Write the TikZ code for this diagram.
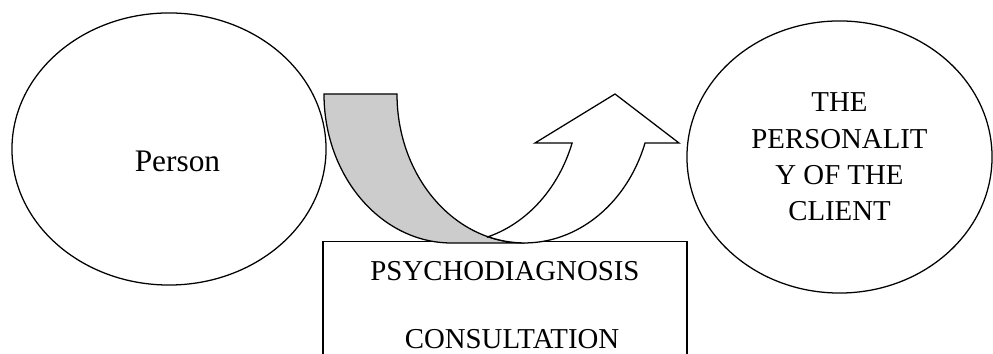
\documentclass[tikz,border=0pt]{standalone}
\usepackage{fontspec}
\setmainfont{Liberation Serif}
\usetikzlibrary{shapes.geometric}

\tikzset{
    blob/.style={draw, ellipse, line width=0.9pt, inner sep=0pt,
        minimum height=6.8cm, align=center,
        font=\fontsize{20.5pt}{25.9pt}\selectfont},
    frame/.style={draw, rectangle, line width=0.9pt, align=center,
        minimum width=9.1cm, minimum height=3.175cm,
        font=\fontsize{20.5pt}{48.5pt}\selectfont},
    band/.style={draw, line width=0.9pt, line join=miter}
}

\begin{document}
\begin{tikzpicture}[x=0.025cm, y=0.025cm]
    \clip (0,0) rectangle (993,354);
    \node[blob, minimum width=7.85cm, text height=32pt, text depth=0pt,
        font=\fontsize{22.3pt}{26pt}\selectfont] (person) at (169,205) {\hspace*{12pt}Person};
    \node[blob, minimum width=7.625cm] (client) at (839.5,197)
    {
        THE\\ PERSONALIT\\ Y OF THE\\ CLIENT
    };
    \node[frame] (diag) at (505,48.8)
    {
        PSYCHODIAGNOSIS\\ \hspace*{10pt}CONSULTATION
    };
    % back of the bent arrow
    \draw[band, fill=black!20] (324,260)
        arc[start angle=180, end angle=270, x radius=127.6, y radius=149]
        -- (524.6,111)
        arc[start angle=270, end angle=180, x radius=127.6, y radius=149]
        -- cycle;
    % front of the bent arrow with its head
    \draw[band, fill=white] (488.1,117.3)
        arc[start angle=253.4, end angle=340.8, x radius=127.6, y radius=149]
        -- (679,211) -- (615,260) -- (535,211) -- (572.1,211)
        arc[start angle=340.8, end angle=286.6, x radius=127.6, y radius=149]
        -- cycle;
\end{tikzpicture}
\end{document}
